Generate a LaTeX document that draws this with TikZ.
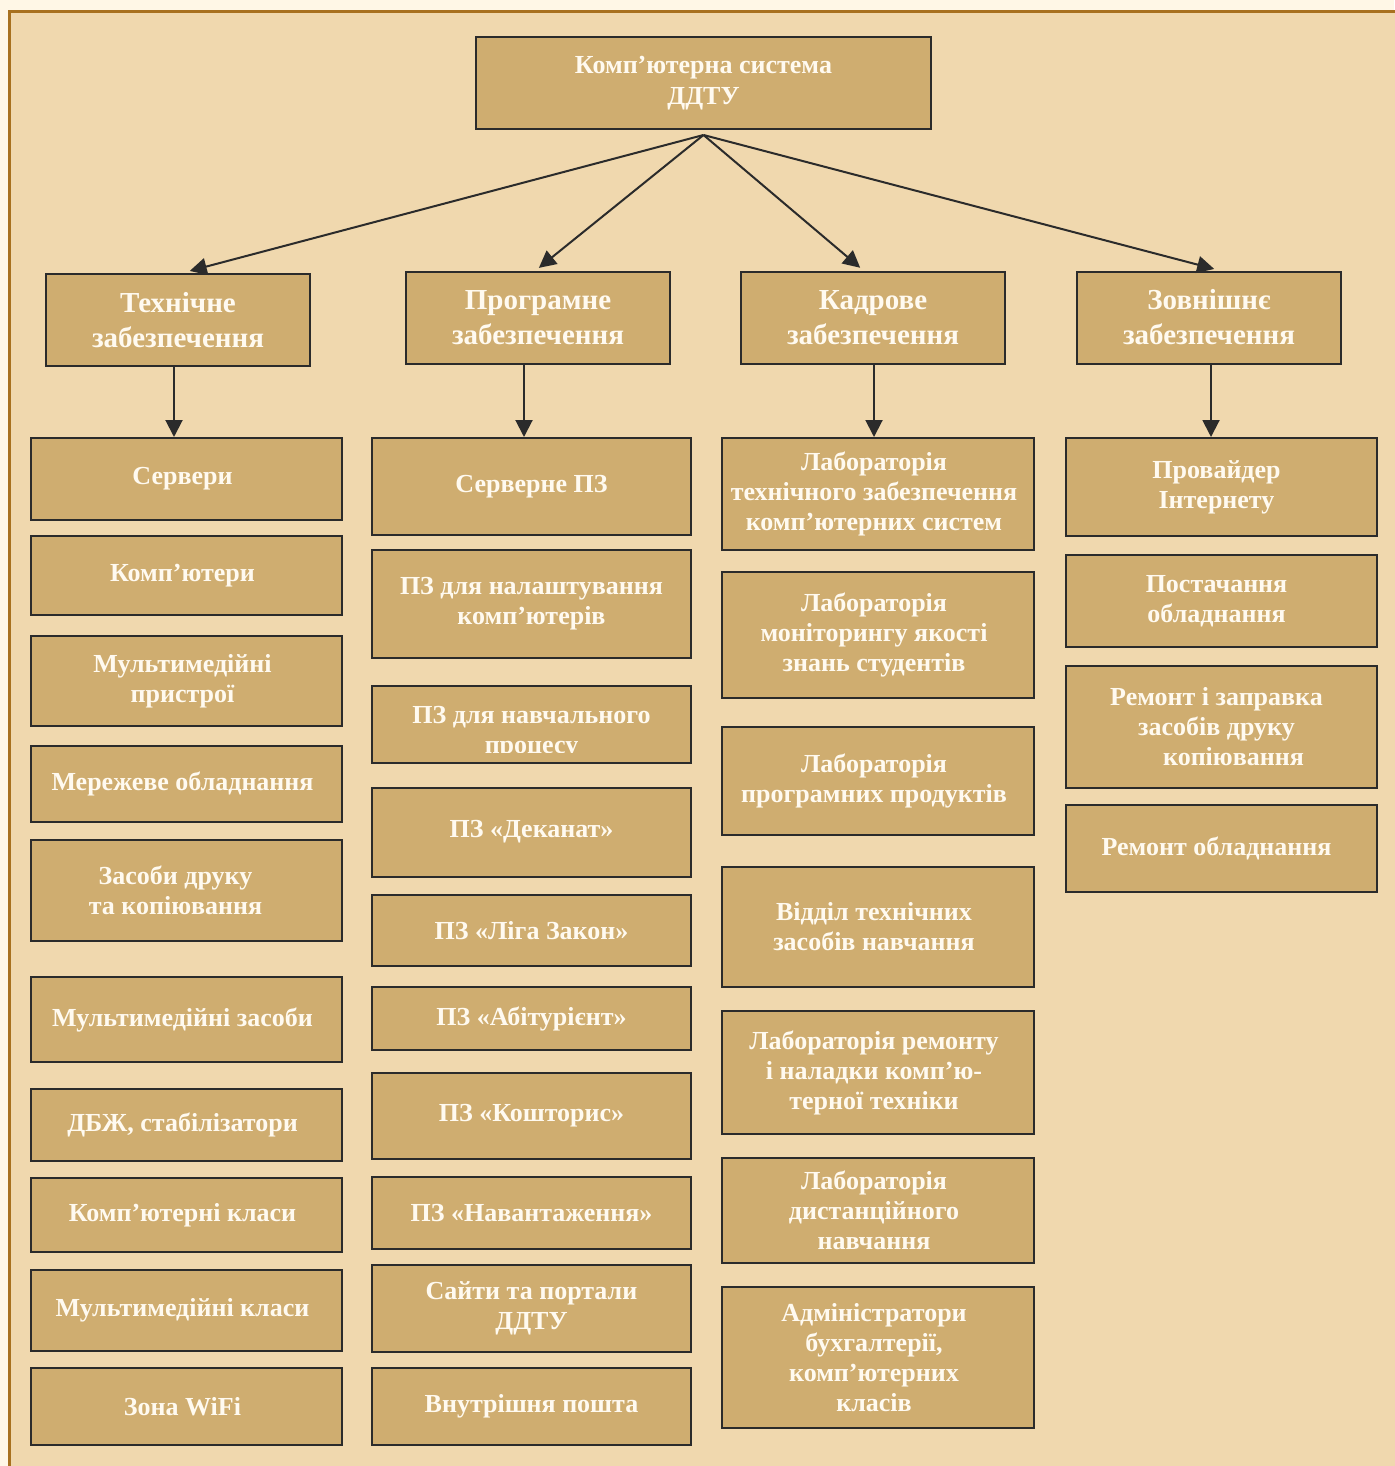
\documentclass[tikz,border=0pt]{standalone}
\usepackage{fontspec}
\setmainfont{Liberation Serif}
\usetikzlibrary{arrows.meta, calc, positioning}
\definecolor{pagecolor}{RGB}{255,247,230}
\definecolor{framecolor}{RGB}{168,113,31}
\definecolor{backcolor}{RGB}{240,216,174}
\definecolor{boxcolor}{RGB}{207,173,112}
\definecolor{boxlinecolor}{RGB}{43,43,43}
\definecolor{boxtextcolor}{RGB}{255,250,240}

\tikzset{
	box/.style={draw=boxlinecolor, line width=2pt, fill=boxcolor, text=boxtextcolor, align=center, inner sep=0pt,
		font=\bfseries\fontsize{26}{30}\selectfont},
	headbox/.style={box, minimum width=264pt, minimum height=92pt, font=\bfseries\fontsize{29}{35}\selectfont},
	colA/.style={box, minimum width=311pt},
	colB/.style={box, minimum width=319pt},
	colC/.style={box, minimum width=312pt},
	colD/.style={box, minimum width=311pt},
	arr/.style={-{Triangle[length=17pt,width=17pt]}, line width=2pt, draw=boxlinecolor},
}

\begin{document}
\begin{tikzpicture}[x=1pt,y=-1pt]
\useasboundingbox (0,0) rectangle (1394,1466);
\fill[pagecolor] (0,0) rectangle (1394,1466);
\filldraw[fill=backcolor, draw=framecolor, line width=3pt] (9,12) rectangle (1404,1480);

% Top
\node[box, minimum width=455pt, minimum height=92pt, font=\bfseries\fontsize{26}{31}\selectfont] (ks) at (703.5,83) {Комп’ютерна система\\ДДТУ};
\coordinate (root) at ([yshift=-5pt]ks.south);

% Second level
\node[headbox] (tech) at (178,320) {Технічне\\забезпечення};
\node[headbox] (prog) at (538,318) {Програмне\\забезпечення};
\node[headbox] (kadr) at (873,318) {Кадрове\\забезпечення};
\node[headbox] (zovn) at (1209,317.5) {Зовнішнє\\забезпечення};

\draw[arr, shorten >=8pt] (root) -- ([xshift=4pt]tech.north);
\draw[arr, shorten >=5pt] (root) -- ([xshift=-3pt]prog.north);
\draw[arr, shorten >=5pt] (root) -- ([xshift=-9pt]kadr.north);
\draw[arr, shorten >=6pt] (root) -- ([xshift=11pt]zovn.north);

% Technical
\node[colA, minimum height=82pt] (tech-1) at (186.5,479) {\hspace*{-8pt}Сервери};
\node[colA, minimum height=79pt] (tech-2) at (186.5,575.5) {\hspace*{-8pt}Комп’ютери};
\node[colA, minimum height=90pt] (tech-3) at (186.5,681) {\hspace*{-8pt}Мультимедійні\\\hspace*{-8pt}пристрої};
\node[colA, minimum height=76pt] (tech-4) at (186.5,784) {\hspace*{-8pt}Мережеве обладнання};
\node[colA, minimum height=101pt] (tech-5) at (186.5,890.5) {\hspace*{-22pt}Засоби друку\\\hspace*{-22pt}та копіювання};
\node[colA, minimum height=85pt] (tech-6) at (186.5,1019.5) {\hspace*{-8pt}Мультимедійні засоби};
\node[colA, minimum height=72pt] (tech-7) at (186.5,1125) {\hspace*{-8pt}ДБЖ, стабілізатори};
\node[colA, minimum height=74pt] (tech-8) at (186.5,1215) {\hspace*{-8pt}Комп’ютерні класи};
\node[colA, minimum height=81pt] (tech-9) at (186.5,1310.5) {\hspace*{-8pt}Мультимедійні класи};
\node[colA, minimum height=77pt] (tech-10) at (186.5,1406.5) {\hspace*{-8pt}Зона WiFi};

% Software
\node[colB, minimum height=97pt] (prog-1) at (531.5,486.5) {Серверне ПЗ};
\node[colB, minimum height=108pt] (prog-2) at (531.5,604) {ПЗ для налаштування\\комп’ютерів};
\node[colB, minimum height=77pt] (prog-3) at (531.5,724.5) {};
\begin{scope}
	\clip ([yshift=-2pt]prog-3.north west) rectangle ([yshift=12pt]prog-3.south east);
	\node[box, draw=none, fill=none] (prog-3-text) at (531.5,733) {ПЗ для навчального\\процесу};
\end{scope}
\node[colB, minimum height=89pt] (prog-4) at (531.5,832.5) {\raisebox{7pt}{ПЗ «Деканат»}};
\node[colB, minimum height=71pt] (prog-5) at (531.5,930.5) {ПЗ «Ліга Закон»};
\node[colB, minimum height=63pt] (prog-6) at (531.5,1018.5) {\raisebox{3pt}{ПЗ «Абітурієнт»}};
\node[colB, minimum height=86pt] (prog-7) at (531.5,1116) {\raisebox{6pt}{ПЗ «Кошторис»}};
\node[colB, minimum height=72pt] (prog-8) at (531.5,1213) {ПЗ «Навантаження»};
\node[colB, minimum height=87pt] (prog-9) at (531.5,1308.5) {Сайти та портали\\ДДТУ};
\node[colB, minimum height=77pt] (prog-10) at (531.5,1406.5) {Внутрішня пошта};

% Staff
\node[colC, minimum height=112pt] (kadr-1) at (878,494) {\hspace*{-8pt}Лабораторія\\\hspace*{-8pt}технічного забезпечення\\\hspace*{-8pt}комп’ютерних систем};
\node[colC, minimum height=126pt] (kadr-2) at (878,635) {\hspace*{-8pt}Лабораторія\\\hspace*{-8pt}моніторингу якості\\\hspace*{-8pt}знань студентів};
\node[colC, minimum height=108pt] (kadr-3) at (878,781) {\hspace*{-8pt}Лабораторія\\\hspace*{-8pt}програмних продуктів};
\node[colC, minimum height=120pt] (kadr-4) at (878,927) {\hspace*{-8pt}Відділ технічних\\\hspace*{-8pt}засобів навчання};
\node[colC, minimum height=123pt] (kadr-5) at (878,1072.5) {\hspace*{-8pt}Лабораторія ремонту\\\hspace*{-8pt}і наладки комп’ю-\\\hspace*{-8pt}терної техніки};
\node[colC, minimum height=105pt] (kadr-6) at (878,1210.5) {\hspace*{-8pt}Лабораторія\\\hspace*{-8pt}дистанційного\\\hspace*{-8pt}навчання};
\node[colC, minimum height=141pt] (kadr-7) at (878,1357.5) {\hspace*{-8pt}Адміністратори\\\hspace*{-8pt}бухгалтерії,\\\hspace*{-8pt}комп’ютерних\\\hspace*{-8pt}класів};

% External
\node[colD, minimum height=98pt] (zovn-1) at (1221.5,487) {\hspace*{-10pt}Провайдер\\\hspace*{-10pt}Інтернету};
\node[colD, minimum height=92pt] (zovn-2) at (1221.5,601) {\hspace*{-10pt}Постачання\\\hspace*{-10pt}обладнання};
\node[colD, minimum height=122pt] (zovn-3) at (1221.5,727) {\hspace*{-10pt}Ремонт і заправка\\\hspace*{-10pt}засобів друку\\\hspace*{24pt}копіювання};
\node[colD, minimum height=87pt] (zovn-4) at (1221.5,848.5) {\hspace*{-10pt}Ремонт обладнання};

% Down arrows
\draw[arr] ([xshift=-4pt]tech.south) -- ([xshift=-4pt]tech.south |- tech-1.north);
\draw[arr] ([xshift=-14pt]prog.south) -- ([xshift=-14pt]prog.south |- prog-1.north);
\draw[arr] ([xshift=1pt]kadr.south) -- ([xshift=1pt]kadr.south |- kadr-1.north);
\draw[arr] ([xshift=2pt]zovn.south) -- ([xshift=2pt]zovn.south |- zovn-1.north);

\end{tikzpicture}
\end{document}
